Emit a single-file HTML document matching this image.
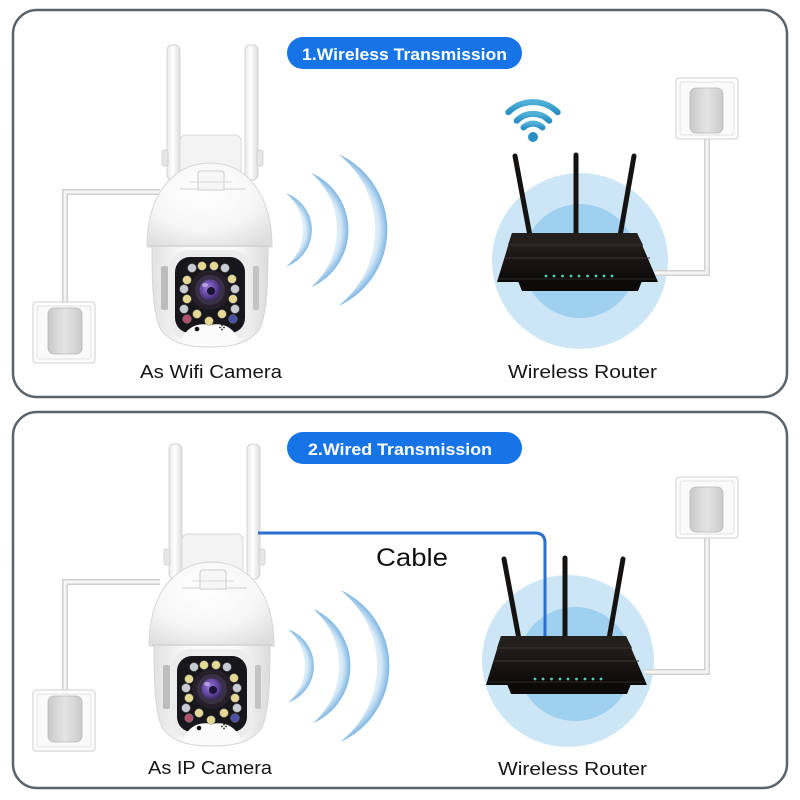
<!DOCTYPE html>
<html><head><meta charset="utf-8"><style>
html,body{margin:0;padding:0;background:#fff;}
svg{display:block;}
text{font-family:"Liberation Sans",sans-serif;}
</style></head><body>
<svg width="800" height="800" viewBox="0 0 800 800" xmlns="http://www.w3.org/2000/svg">
<defs>
  <linearGradient id="antG" x1="0" x2="1" y1="0" y2="0">
    <stop offset="0" stop-color="#e9e9e9"/><stop offset="0.45" stop-color="#ffffff"/><stop offset="1" stop-color="#dcdcdc"/>
  </linearGradient>
  <radialGradient id="domeG" cx="0.45" cy="0.35" r="0.75">
    <stop offset="0" stop-color="#ffffff"/><stop offset="0.6" stop-color="#f6f6f6"/><stop offset="1" stop-color="#dedede"/>
  </radialGradient>
  <linearGradient id="bodyG" x1="0" x2="1" y1="0" y2="0">
    <stop offset="0" stop-color="#e2e2e2"/><stop offset="0.3" stop-color="#fbfbfb"/><stop offset="0.7" stop-color="#fbfbfb"/><stop offset="1" stop-color="#dcdcdc"/>
  </linearGradient>
  <radialGradient id="lensG" cx="0.4" cy="0.4" r="0.7">
    <stop offset="0" stop-color="#9a7ad8"/><stop offset="0.6" stop-color="#5a3f98"/><stop offset="1" stop-color="#2a1f48"/>
  </radialGradient>
  <linearGradient id="rtG" x1="0" x2="0" y1="0" y2="1">
    <stop offset="0" stop-color="#2b2522"/><stop offset="0.5" stop-color="#1a1614"/><stop offset="1" stop-color="#0c0a09"/>
  </linearGradient>
  <linearGradient id="plugG" x1="0" x2="1" y1="0" y2="0">
    <stop offset="0" stop-color="#c9c9c9"/><stop offset="0.5" stop-color="#e4e4e4"/><stop offset="1" stop-color="#cacaca"/>
  </linearGradient>
  <linearGradient id="wifiG" x1="0" x2="0" y1="0" y2="1">
    <stop offset="0" stop-color="#4fb0d8"/><stop offset="1" stop-color="#2a8fc4"/>
  </linearGradient>
  <radialGradient id="w1" gradientUnits="userSpaceOnUse" cx="273" cy="230" r="39">
    <stop offset="0.55" stop-color="#ffffff"/><stop offset="0.85" stop-color="#d6e9f7"/><stop offset="1" stop-color="#7fb6e2"/>
  </radialGradient>
  <radialGradient id="w2" gradientUnits="userSpaceOnUse" cx="286" cy="230" r="62.4">
    <stop offset="0.65" stop-color="#ffffff"/><stop offset="0.88" stop-color="#d6e9f7"/><stop offset="1" stop-color="#7fb6e2"/>
  </radialGradient>
  <radialGradient id="w3" gradientUnits="userSpaceOnUse" cx="304" cy="230" r="83.4">
    <stop offset="0.72" stop-color="#ffffff"/><stop offset="0.9" stop-color="#d6e9f7"/><stop offset="1" stop-color="#7fb6e2"/>
  </radialGradient>

  <!-- Camera -->
  <g id="cam">
    <!-- antennas -->
    <rect x="167" y="45" width="13" height="135" rx="5" fill="url(#antG)" stroke="#d4d4d4" stroke-width="1"/>
    <rect x="245" y="45" width="13" height="135" rx="5" fill="url(#antG)" stroke="#d4d4d4" stroke-width="1"/>
    <rect x="162" y="150" width="6" height="16" rx="2" fill="#e6e6e6" stroke="#cfcfcf" stroke-width="0.8"/>
    <rect x="257" y="150" width="6" height="16" rx="2" fill="#e6e6e6" stroke="#cfcfcf" stroke-width="0.8"/>
    <!-- mount bracket -->
    <rect x="180" y="135" width="61" height="42" rx="6" fill="#f3f3f3" stroke="#d8d8d8" stroke-width="1"/>
    <!-- dome -->
    <path d="M147,247 C147,196 172,163 210,163 C248,163 272,196 272,247 Z" fill="url(#domeG)" stroke="#d6d6d6" stroke-width="1"/>
    <line x1="180" y1="189" x2="245" y2="189" stroke="#cfcfcf" stroke-width="1"/>
    <path d="M198,190 L198,174 Q198,171 201,171 L221,171 Q224,171 224,174 L224,190 Z" fill="#f7f7f7" stroke="#cdcdcd" stroke-width="1"/>
    <line x1="190" y1="182" x2="232" y2="182" stroke="#dadada" stroke-width="1"/>
    <!-- lower body -->
    <path d="M152,246 L268,246 C268,285 267,315 259,330 C249,343 233,347 210,347 C187,347 171,343 161,330 C153,315 152,285 152,246 Z" fill="url(#bodyG)" stroke="#d6d6d6" stroke-width="1"/>
    <line x1="150" y1="246" x2="270" y2="246" stroke="#d2d2d2" stroke-width="1.5"/>
    <!-- side channels -->
    <rect x="161" y="266" width="7" height="44" rx="2" fill="#bdbdbd"/>
    <rect x="253" y="266" width="6" height="44" rx="2" fill="#c4c4c4"/>
    <!-- bezel -->
    <rect x="169" y="250" width="82" height="90" rx="20" fill="#ececec"/>
    <!-- dark face -->
    <rect x="175" y="257" width="70" height="76" rx="15" fill="#17161b"/>
    <path d="M181,340 Q190,321 210,325 Q230,321 239,340 Z" fill="#fbfbfb"/>
    <circle cx="197" cy="329" r="2.3" fill="#111"/>
    <g fill="#222">
      <circle cx="222" cy="325.5" r="0.9"/><circle cx="222" cy="329.5" r="0.9"/>
      <circle cx="220" cy="327.5" r="0.9"/><circle cx="224" cy="327.5" r="0.9"/>
    </g>
    <!-- lens -->
    <circle cx="210" cy="290" r="20" fill="#241f28"/>
    <circle cx="210" cy="290" r="15" fill="#3a3046"/>
    <circle cx="210" cy="290" r="10.5" fill="url(#lensG)"/>
    <circle cx="211" cy="291" r="4" fill="#1c1434"/>
    <ellipse cx="205" cy="285" rx="3" ry="2" fill="#cdbdf0" opacity="0.7"/>
    <!-- LEDs -->
    <g stroke="#7a7a7a" stroke-width="0.5">
      <circle cx="192" cy="268" r="4.3" fill="#c9cbd2"/>
      <circle cx="202" cy="266" r="4.3" fill="#e4d892"/>
      <circle cx="214" cy="266" r="4.3" fill="#e4d892"/>
      <circle cx="225" cy="268" r="4.3" fill="#c9cbd2"/>
      <circle cx="187" cy="280" r="4.3" fill="#e4d892"/>
      <circle cx="184" cy="289" r="4.3" fill="#c9cbd2"/>
      <circle cx="187" cy="299" r="4.3" fill="#e4d892"/>
      <circle cx="184" cy="309" r="4.3" fill="#c9cbd2"/>
      <circle cx="187" cy="319" r="4.3" fill="#b0506a"/>
      <circle cx="232" cy="279" r="4.3" fill="#e4d892"/>
      <circle cx="235" cy="289" r="4.3" fill="#c9cbd2"/>
      <circle cx="233" cy="299" r="4.3" fill="#e4d892"/>
      <circle cx="235" cy="309" r="4.3" fill="#c9cbd2"/>
      <circle cx="233" cy="319" r="4.3" fill="#4a4fa8"/>
      <circle cx="197" cy="314" r="4.3" fill="#e4d892"/>
      <circle cx="209" cy="321" r="4.3" fill="#e4d892"/>
      <circle cx="222" cy="314" r="4.3" fill="#e4d892"/>
    </g>
  </g>

  <!-- Waves -->
  <g id="waves">
    <path d="M286.3,193.4 A39,39 0 0 1 286.3,266.6 A48.5,48.5 0 0 0 286.3,193.4 Z" fill="url(#w1)"/>
    <path d="M311.4,173 A62.4,62.4 0 0 1 311.4,287 A76.3,76.3 0 0 0 311.4,173 Z" fill="url(#w2)"/>
    <path d="M338.3,154 A83.4,83.4 0 0 1 338.3,306 A97,97 0 0 0 338.3,154 Z" fill="url(#w3)"/>
  </g>

  <!-- Router -->
  <g id="router">
    <line x1="515" y1="156" x2="530" y2="236" stroke="#151312" stroke-width="5" stroke-linecap="round"/>
    <line x1="576" y1="155" x2="576" y2="236" stroke="#151312" stroke-width="5" stroke-linecap="round"/>
    <line x1="634" y1="156" x2="620" y2="236" stroke="#151312" stroke-width="5" stroke-linecap="round"/>
    <path d="M518,281 L642,281 L638,291 L522,291 Z" fill="#0c0a09"/>
    <polygon points="512,233 637,233 658,282 497,282" fill="url(#rtG)"/>
    <polygon points="512,233 637,233 643,245 508,245" fill="#231f1c"/>
    <line x1="508" y1="245" x2="643" y2="245" stroke="#3d3733" stroke-width="1"/>
    <line x1="505" y1="258" x2="650" y2="258" stroke="#3d3733" stroke-width="1"/>
    <line x1="499" y1="279" x2="656" y2="279" stroke="#2d2825" stroke-width="1"/>
    <g fill="#4fd0b0">
      <circle cx="546" cy="276" r="1.4"/><circle cx="554" cy="276" r="1.4"/><circle cx="562.5" cy="276" r="1.4"/>
      <circle cx="571" cy="276" r="1.4"/><circle cx="579" cy="276" r="1.4"/><circle cx="587.5" cy="276" r="1.4"/>
      <circle cx="596" cy="276" r="1.4"/><circle cx="604" cy="276" r="1.4"/><circle cx="612" cy="276" r="1.4"/>
    </g>
  </g>

  <!-- Outlet -->
  <g id="outlet">
    <rect x="0" y="0" width="62" height="61" rx="3" fill="#fdfdfd" stroke="#cfcfcf" stroke-width="1"/>
    <rect x="4" y="4" width="54" height="53" rx="2" fill="#fafafa" stroke="#e2e2e2" stroke-width="1"/>
  </g>
</defs>

<!-- Panels -->
<rect x="13" y="10" width="774" height="387" rx="24" fill="#fff" stroke="#5c6368" stroke-width="2.5"/>
<rect x="13" y="412" width="774" height="376" rx="24" fill="#fff" stroke="#5c6368" stroke-width="2.5"/>

<!-- Pills -->
<rect x="287" y="37" width="235" height="32" rx="16" fill="#1774e6"/>
<text x="404.5" y="60" fill="#fff" font-size="17" font-weight="bold" text-anchor="middle" textLength="205" lengthAdjust="spacingAndGlyphs">1.Wireless Transmission</text>
<rect x="287" y="432" width="235" height="32" rx="16" fill="#1774e6"/>
<text x="400" y="455" fill="#fff" font-size="17" font-weight="bold" text-anchor="middle" textLength="184" lengthAdjust="spacingAndGlyphs">2.Wired Transmission</text>

<!-- ===== Panel 1 ===== -->
<!-- camera cord + outlet -->
<polyline points="160,192 65,192 65,312" fill="none" stroke="#cfcfcf" stroke-width="6"/>
<polyline points="160,192 65,192 65,312" fill="none" stroke="#f6f6f6" stroke-width="3"/>
<use href="#outlet" x="33" y="302"/>
<rect x="48" y="308" width="34" height="46" rx="6" fill="url(#plugG)" stroke="#b8b8b8" stroke-width="0.8"/>
<use href="#cam"/>
<use href="#waves"/>

<!-- router 1 -->
<circle cx="580" cy="261" r="88" fill="#cde6f6"/>
<circle cx="580" cy="261" r="57" fill="#9fd0ef"/>
<polyline points="655,273 707,273 707,130" fill="none" stroke="#d2d2d2" stroke-width="6"/>
<polyline points="655,273 707,273 707,130" fill="none" stroke="#f4f4f4" stroke-width="3"/>
<use href="#outlet" x="676" y="78"/>
<rect x="690" y="88" width="33" height="45" rx="6" fill="url(#plugG)" stroke="#b8b8b8" stroke-width="0.8"/>
<use href="#router"/>
<!-- wifi icon -->
<g fill="none" stroke="url(#wifiG)" stroke-width="6" stroke-linecap="round">
  <path d="M508.3,112.3 A35,35 0 0 1 557.7,112.3"/>
  <path d="M516.7,120.7 A23,23 0 0 1 549.3,120.7"/>
  <path d="M523.5,127.5 A13.5,13.5 0 0 1 542.5,127.5"/>
</g>
<circle cx="533" cy="137" r="5" fill="#2a8fc4"/>

<text x="211" y="378" font-size="18" fill="#151515" text-anchor="middle" textLength="142" lengthAdjust="spacingAndGlyphs">As Wifi Camera</text>
<text x="582.5" y="378" font-size="18" fill="#151515" text-anchor="middle" textLength="149" lengthAdjust="spacingAndGlyphs">Wireless Router</text>

<!-- ===== Panel 2 ===== -->
<polyline points="160,582 65,582 65,700" fill="none" stroke="#cfcfcf" stroke-width="6"/>
<polyline points="160,582 65,582 65,700" fill="none" stroke="#f6f6f6" stroke-width="3"/>
<use href="#outlet" x="33" y="690"/>
<rect x="48" y="696" width="34" height="46" rx="6" fill="url(#plugG)" stroke="#b8b8b8" stroke-width="0.8"/>
<use href="#cam" transform="translate(2,399)"/>
<use href="#waves" transform="translate(2,436)"/>

<!-- router 2 -->
<circle cx="568" cy="661" r="86" fill="#cde6f6"/>
<circle cx="575" cy="664" r="57" fill="#9fd0ef"/>
<polyline points="645,672 707,672 707,530" fill="none" stroke="#d2d2d2" stroke-width="6"/>
<polyline points="645,672 707,672 707,530" fill="none" stroke="#f4f4f4" stroke-width="3"/>
<use href="#outlet" x="676" y="477"/>
<rect x="690" y="487" width="33" height="45" rx="6" fill="url(#plugG)" stroke="#b8b8b8" stroke-width="0.8"/>
<!-- blue cable -->
<path d="M258,533 L535,533 Q545,533 545,543 L545,642" fill="none" stroke="#2a6fd0" stroke-width="3"/>
<use href="#router" transform="translate(-11,403)"/>

<text x="412" y="566" font-size="25" fill="#111" text-anchor="middle" textLength="72" lengthAdjust="spacingAndGlyphs">Cable</text>
<text x="210" y="774" font-size="18" fill="#151515" text-anchor="middle" textLength="124" lengthAdjust="spacingAndGlyphs">As IP Camera</text>
<text x="572.5" y="775" font-size="18" fill="#151515" text-anchor="middle" textLength="149" lengthAdjust="spacingAndGlyphs">Wireless Router</text>
</svg>
</body></html>
